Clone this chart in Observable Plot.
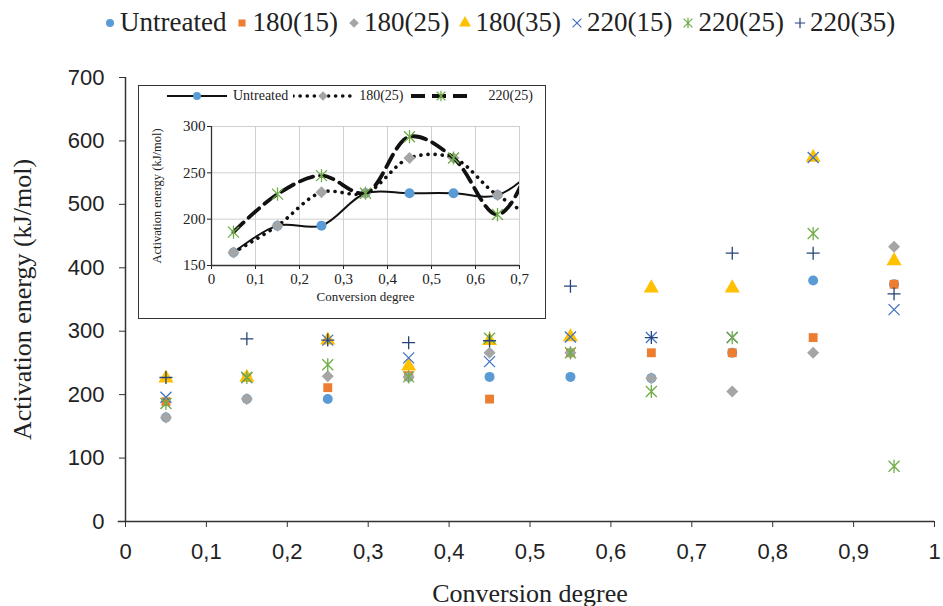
<!DOCTYPE html>
<html><head><meta charset="utf-8">
<script src="https://cdn.jsdelivr.net/npm/d3@7"></script>
<script src="https://cdn.jsdelivr.net/npm/@observablehq/plot@0.6"></script>
<style>
html,body{margin:0;padding:0;background:#fff;}
body{width:943px;height:606px;overflow:hidden;position:relative;font-family:"Liberation Serif","Times New Roman",serif;}
#legend{position:absolute;left:0;top:0;width:943px;height:45px;display:flex;align-items:center;padding-left:104px;box-sizing:border-box;font-size:27px;color:#222;font-family:"Liberation Serif","Times New Roman",serif !important;}
#legend .item{display:flex;align-items:center;margin-right:10px;}
#legend svg{margin-right:4px;}
#main{position:absolute;left:0;top:45px;}
#inset{position:absolute;left:138px;top:85px;width:408px;height:234px;border:1.5px solid #333;background:#fff;box-sizing:border-box;}
#inset-legend{position:absolute;left:28px;top:2px;display:flex;align-items:center;font-size:14px;color:#222;font-family:"Liberation Serif","Times New Roman",serif !important;}
#inset-legend span{margin-left:6px;}
</style></head><body>
<div id="legend"></div>
<div id="main"></div>
<div id="inset"><div id="inset-plot"></div><div id="inset-legend"></div></div>
<script>
// ---------- data ----------
const conversion = [0.05, 0.15, 0.25, 0.35, 0.45, 0.55, 0.65, 0.75, 0.85, 0.95];
const seriesNames = ["Untreated", "180(15)", "180(25)", "180(35)", "220(15)", "220(25)", "220(35)"];
const untreated = [164, 193, 193, 228, 228, 228, 226, 266, 380, 374];
const t180_15   = [189, 227, 211, 230, 193, 266, 266, 266, 290, 374];
const t180_25   = [164, 193, 229, 228, 266, 266, 226, 205, 266, 433];
const t180_35   = [226, 227, 286, 245, 285, 291, 368, 368, 574, 411];
const t220_15   = [196, 227, 286, 258, 252, 291, 290, 290, 574, 334];
const t220_25   = [186, 227, 247, 228, 289, 266, 205, 290, 454, 87];
const t220_35   = [227, 288, 286, 282, 285, 371, 290, 423, 423, 359];
const seriesValues = [untreated, t180_15, t180_25, t180_35, t220_15, t220_25, t220_35];

const xTicks = [0, 0.1, 0.2, 0.3, 0.4, 0.5, 0.6, 0.7, 0.8, 0.9, 1];
const yTicks = [0, 100, 200, 300, 400, 500, 600, 700];
const insetXTicks = [0, 0.1, 0.2, 0.3, 0.4, 0.5, 0.6, 0.7];
const insetYTicks = [150, 200, 250, 300];
const insetSeries = ["Untreated", "180(25)", "220(25)"];
const xTitle = "Conversion degree";
const yTitle = "Activation energy (kJ/mol)";

// ---------- styles ----------
const SERIF = "Liberation Serif, Times New Roman, serif";
const seriesColors = ["#5B9BD5", "#ED7D31", "#A5A5A5", "#FFC000", "#4472C4", "#70AD47", "#264478"];
const commaFormat = d => d === 0 ? "0" : (d === 1 ? "1" : String(d).replace(".", ","));

function strokeSymbol(paths) {
  return {draw(ctx, size) {
    const r = Math.sqrt(size / Math.PI);
    for (const [x1, y1, x2, y2] of paths) { ctx.moveTo(x1 * r, y1 * r); ctx.lineTo(x2 * r, y2 * r); }
  }};
}
const symX = strokeSymbol([[-1, -1, 1, 1], [-1, 1, 1, -1]]);
const symAst = strokeSymbol([[-1, -1, 1, 1], [-1, 1, 1, -1], [0, -1.2, 0, 1.2]]);
const symPlus = strokeSymbol([[-1, 0, 1, 0], [0, -1, 0, 1]]);
const seriesSymbols = ["circle", "square", "diamond2", "triangle", symX, symAst, symPlus];
const seriesFilled = [true, true, true, true, false, false, false];
const seriesR = [5, 5, 5.4, 5.6, 5.5, 5.5, 6.5];

const rows = [];
seriesNames.forEach((s, i) => conversion.forEach((c, j) => rows.push({series: s, idx: i, x: c, y: seriesValues[i][j]})));

function dotMark(i, data, extra = {}) {
  const base = {x: "x", y: "y", symbol: () => seriesSymbols[i]};
  if (seriesFilled[i]) Object.assign(base, {fill: seriesColors[i], stroke: "none"});
  else Object.assign(base, {fill: "none", stroke: seriesColors[i], strokeWidth: 1.3});
  return Plot.dot(data, {...base, ...extra, r: extra.r ?? seriesR[i]});
}
function d3Sym(s) {
  return typeof s === "string"
    ? {circle: d3.symbolCircle, square: d3.symbolSquare, diamond2: d3.symbolDiamond2, triangle: d3.symbolTriangle}[s]
    : s;
}

// ---------- main chart ----------
const main = Plot.plot({
  width: 943, height: 561,
  marginLeft: 125, marginRight: 9, marginTop: 32, marginBottom: 85,
  x: {domain: [0, 1]},
  y: {domain: [0, 700]},
  style: {fontFamily: "Liberation Sans, Arial, sans-serif", background: "white", color: "#222"},
  marks: [
    Plot.axisY({ticks: yTicks, tickSize: 6, tickPadding: 15, fontSize: 22, label: null, stroke: "#333"}),
    Plot.axisX({ticks: xTicks, tickSize: 6, tickPadding: 16, fontSize: 22, label: null, tickFormat: commaFormat, stroke: "#333"}),
    Plot.ruleX([0], {stroke: "#333", strokeWidth: 1.5}),
    Plot.ruleY([0], {stroke: "#333", strokeWidth: 1.5, x1: -0.009, x2: 1}),
    ...seriesNames.map((s, i) => dotMark(i, rows.filter(d => d.idx === i))),
    Plot.text([xTitle], {frameAnchor: "bottom", textAnchor: "middle", dy: 80, fontSize: 26, fill: "#222"}),
    Plot.text([yTitle], {frameAnchor: "left", textAnchor: "middle", dx: -103, rotate: -90, fontSize: 26, fill: "#222"})
  ]
});
d3.select(main).selectAll("text")
  .filter(function() { return this.textContent === xTitle || this.textContent === yTitle; })
  .style("font-family", SERIF);
document.getElementById("main").append(main);

// ---------- main legend ----------
const legend = document.getElementById("legend");
seriesNames.forEach((s, i) => {
  const item = document.createElement("div");
  item.className = "item";
  const svg = d3.create("svg").attr("width", 12).attr("height", 14);
  const r = seriesR[i] * 0.8;
  svg.append("path")
    .attr("transform", "translate(6,7)")
    .attr("d", d3.symbol(d3Sym(seriesSymbols[i]), r * r * Math.PI)())
    .attr("fill", seriesFilled[i] ? seriesColors[i] : "none")
    .attr("stroke", seriesFilled[i] ? "none" : seriesColors[i])
    .attr("stroke-width", 1.2);
  item.append(svg.node());
  const t = document.createElement("span");
  t.textContent = s;
  t.style.fontFamily = SERIF;
  item.append(t);
  legend.append(item);
});

// ---------- inset ----------
const insetIdx = insetSeries.map(s => seriesNames.indexOf(s));
const lineStyles = [
  {stroke: "#111", strokeWidth: 2},
  {stroke: "#111", strokeWidth: 3.6, strokeDasharray: "0.1 7", strokeLinecap: "round"},
  {stroke: "#111", strokeWidth: 3.8, strokeDasharray: "14 7"}
];
const inset = Plot.plot({
  width: 405, height: 231,
  marginLeft: 72, marginRight: 25, marginTop: 40, marginBottom: 52,
  x: {domain: [0, 0.7]},
  y: {domain: [150, 300]},
  style: {fontFamily: SERIF, background: "white", color: "#222"},
  marks: [
    Plot.gridX(insetXTicks.slice(1), {stroke: "#d0d0d0", strokeOpacity: 1}),
    Plot.gridY(insetYTicks.slice(1), {stroke: "#d0d0d0", strokeOpacity: 1}),
    Plot.axisY({ticks: insetYTicks, tickSize: 4, tickPadding: 2, fontSize: 15, label: null}),
    Plot.axisX({ticks: insetXTicks, tickSize: 4, tickPadding: 4, fontSize: 15, label: null, tickFormat: commaFormat}),
    Plot.ruleX([0], {stroke: "#333", strokeWidth: 1.3}),
    Plot.ruleY([150], {stroke: "#333", strokeWidth: 1.3}),
    ...insetIdx.flatMap((i, k) => {
      const data = rows.filter(d => d.idx === i);
      return [
        Plot.line(data, {x: "x", y: "y", curve: "catmull-rom", clip: true, ...lineStyles[k]}),
        dotMark(i, data.filter(d => d.x <= 0.7), {clip: true})
      ];
    }),
    Plot.text([xTitle], {frameAnchor: "bottom", textAnchor: "middle", dy: 35, fontSize: 13, fill: "#222"}),
    Plot.text([yTitle], {frameAnchor: "left", textAnchor: "middle", dx: -55, rotate: -90, fontSize: 12.5, fill: "#222"})
  ]
});
d3.select(inset).selectAll("text").style("font-family", SERIF);
document.getElementById("inset-plot").append(inset);

// inset legend
const il = document.getElementById("inset-legend");
const ilGaps = [0, 5, 7];
insetIdx.forEach((i, k) => {
  const svg = d3.create("svg").attr("width", 60).attr("height", 16).style("margin-left", ilGaps[k] + "px");
  const ls = lineStyles[k];
  svg.append("line").attr("x1", 0).attr("x2", 60).attr("y1", 8).attr("y2", 8)
    .attr("stroke", ls.stroke).attr("stroke-width", ls.strokeWidth)
    .attr("stroke-dasharray", ls.strokeDasharray || null)
    .attr("stroke-linecap", ls.strokeLinecap || null);
  const r = seriesR[i] * 0.8;
  svg.append("path").attr("transform", "translate(30,8)")
    .attr("d", d3.symbol(d3Sym(seriesSymbols[i]), r * r * Math.PI)())
    .attr("fill", seriesFilled[i] ? seriesColors[i] : "none")
    .attr("stroke", seriesFilled[i] ? "none" : seriesColors[i])
    .attr("stroke-width", 1.3);
  il.append(svg.node());
  const t = document.createElement("span");
  t.textContent = insetSeries[k];
  t.style.fontFamily = SERIF;
  if (k === 2) t.style.marginLeft = "18px";
  il.append(t);
});
</script>
</body></html>
